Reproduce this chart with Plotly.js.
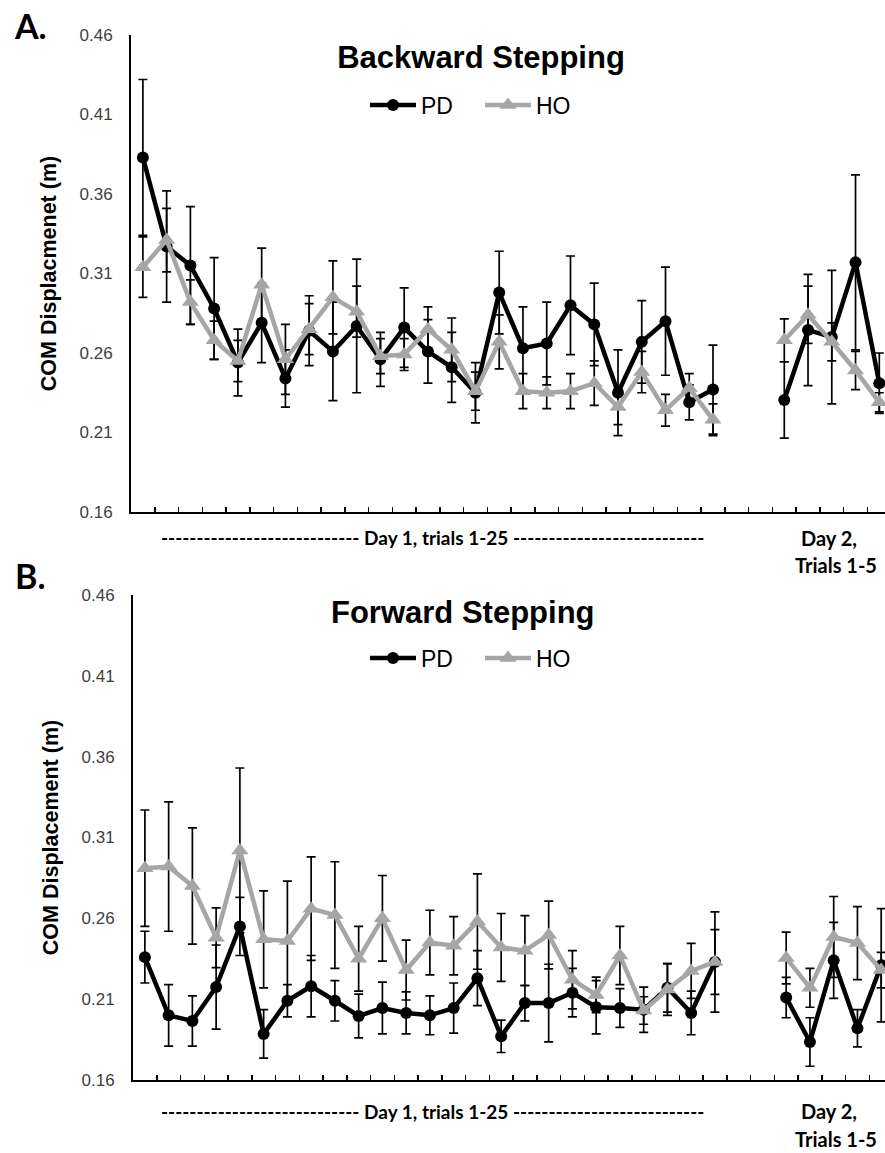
<!DOCTYPE html>
<html>
<head>
<meta charset="utf-8">
<script src="https://cdn.plot.ly/plotly-3.0.1.min.js"></script>
<style>
  html, body { margin: 0; padding: 0; background: #ffffff; overflow: hidden; }
  #chart { width: 885px; height: 1153px; }
</style>
</head>
<body>
<div id="chart"></div>
<script>
// ---------------- DATA ----------------
const day1Trials = [1,2,3,4,5,6,7,8,9,10,11,12,13,14,15,16,17,18,19,20,21,22,23,24,25];
const day2Trials = [1,2,3,4,5];

// Panel A: Backward stepping (COM displacement, m)
const backPD_day1 = [0.383,0.327,0.315,0.288,0.254,0.279,0.244,0.274,0.261,0.277,0.256,0.276,0.261,0.251,0.235,0.298,0.263,0.266,0.290,0.278,0.235,0.267,0.280,0.229,0.237];
const backPD_day1_err = [0.049,0.035,0.037,0.032,0.021,0.025,0.018,0.022,0.031,0.042,0.017,0.025,0.020,0.022,0.019,0.026,0.026,0.026,0.031,0.026,0.027,0.026,0.034,0.011,0.028];
const backHO_day1 = [0.314,0.331,0.292,0.268,0.255,0.303,0.256,0.275,0.295,0.286,0.258,0.259,0.275,0.262,0.236,0.267,0.236,0.235,0.236,0.241,0.226,0.248,0.224,0.238,0.218];
const backHO_day1_err = [0.019,0.020,0.014,0.012,0.013,0.023,0.022,0.016,0.023,0.016,0.011,0.010,0.014,0.020,0.012,0.017,0.011,0.010,0.011,0.014,0.011,0.013,0.010,0.009,0.010];
const backPD_day2 = [0.2305,0.2745,0.270,0.317,0.241];
const backPD_day2_err = [0.024,0.035,0.042,0.055,0.019];
const backHO_day2 = [0.268,0.284,0.267,0.249,0.229];
const backHO_day2_err = [0.0135,0.018,0.012,0.012,0.006];

// Panel B: Forward stepping (COM displacement, m)
const fwdPD_day1 = [0.236,0.200,0.1965,0.2175,0.255,0.1885,0.209,0.218,0.209,0.1996,0.2045,0.2015,0.200,0.2045,0.223,0.187,0.2076,0.2076,0.214,0.205,0.2045,0.2035,0.217,0.2015,0.233];
const fwdPD_day1_err = [0.016,0.019,0.0155,0.026,0.018,0.015,0.010,0.019,0.0125,0.0135,0.016,0.013,0.012,0.0155,0.017,0.010,0.011,0.024,0.015,0.0165,0.012,0.014,0.015,0.0135,0.031];
const fwdHO_day1 = [0.291,0.292,0.280,0.248,0.302,0.247,0.246,0.266,0.262,0.235,0.260,0.228,0.245,0.243,0.258,0.242,0.240,0.2497,0.222,0.2126,0.237,0.203,0.216,0.2275,0.233];
const fwdHO_day1_err = [0.036,0.040,0.036,0.0185,0.051,0.030,0.037,0.032,0.033,0.020,0.0265,0.0185,0.020,0.018,0.0295,0.021,0.0217,0.021,0.018,0.011,0.018,0.0085,0.016,0.017,0.020];
const fwdPD_day2 = [0.211,0.1835,0.234,0.192,0.231];
const fwdPD_day2_err = [0.0125,0.015,0.0235,0.0115,0.035];
const fwdHO_day2 = [0.2355,0.217,0.2485,0.2447,0.228];
const fwdHO_day2_err = [0.016,0.012,0.025,0.0226,0.011];

const yTickVals = [0.16,0.21,0.26,0.31,0.36,0.41,0.46];
const yTickText = ["0.16","0.21","0.26","0.31","0.36","0.41","0.46"];

// ---------------- LAYOUT HELPERS ----------------
const W = 885, H = 1153;
const px = x => x / W;
const py = y => 1 - y / H;
const DAY2_GAP = 2; // two empty slots between the days
const xDay1 = day1Trials.slice();
const xDay2 = day2Trials.map(t => day1Trials.length + DAY2_GAP + t);

const PD_COLOR = '#000000';
const HO_COLOR = '#A6A6A6';
const ARIAL = 'Liberation Sans, Arial, sans-serif';
const CAL = 'Lato, Carlito, Calibri, sans-serif';

const DAY1_LABEL = '<b>---------------------------- Day 1, trials 1-25 ---------------------------</b>';

function errObj(arr) {
  return { type: 'data', array: arr, visible: true, color: '#000000', thickness: 1.7, width: 4.5 };
}
function trace(x, y, err, name, color, symbol, size, xa, ya, legend, show) {
  return {
    type: 'scatter', mode: 'lines+markers', x: x, y: y, name: name,
    legendgroup: name + ya, showlegend: show, legend: legend,
    xaxis: xa, yaxis: ya,
    line: { color: color, width: 4.5 },
    marker: { color: color, symbol: symbol, size: size },
    error_y: errObj(err),
    cliponaxis: true, hoverinfo: 'skip'
  };
}

const data = [
  trace(xDay1, backPD_day1, backPD_day1_err, 'PD', PD_COLOR, 'circle', 12, 'x', 'y', 'legend', true),
  trace(xDay2, backPD_day2, backPD_day2_err, 'PD', PD_COLOR, 'circle', 12, 'x', 'y', 'legend', false),
  trace(xDay1, backHO_day1, backHO_day1_err, 'HO', HO_COLOR, 'triangle-up', 15, 'x', 'y', 'legend', true),
  trace(xDay2, backHO_day2, backHO_day2_err, 'HO', HO_COLOR, 'triangle-up', 15, 'x', 'y', 'legend', false),
  trace(xDay1, fwdPD_day1, fwdPD_day1_err, 'PD', PD_COLOR, 'circle', 12, 'x2', 'y2', 'legend2', true),
  trace(xDay2, fwdPD_day2, fwdPD_day2_err, 'PD', PD_COLOR, 'circle', 12, 'x2', 'y2', 'legend2', false),
  trace(xDay1, fwdHO_day1, fwdHO_day1_err, 'HO', HO_COLOR, 'triangle-up', 15, 'x2', 'y2', 'legend2', true),
  trace(xDay2, fwdHO_day2, fwdHO_day2_err, 'HO', HO_COLOR, 'triangle-up', 15, 'x2', 'y2', 'legend2', false)
];

function xAxis(domainLeft, rightEnd, anchor) {
  return {
    domain: [px(domainLeft), 1], range: [0.5, rightEnd], anchor: anchor,
    showgrid: false, zeroline: false, showline: true, linecolor: '#000000', linewidth: 2,
    ticks: 'inside', ticklen: 5, tickwidth: 1.5, tickcolor: '#000000',
    tickmode: 'linear', tick0: 0.5, dtick: 1, showticklabels: false, fixedrange: true
  };
}
function yAxis(top, bottom, anchor, title) {
  return {
    domain: [py(bottom), py(top)], range: [0.16, 0.46], anchor: anchor,
    showgrid: false, zeroline: false, showline: true, linecolor: '#000000', linewidth: 2,
    ticks: '', tickmode: 'array', tickvals: yTickVals, ticktext: yTickText,
    ticklabelstandoff: 13,
    tickfont: { family: ARIAL, size: 17, color: '#404040' },
    title: { text: '<b>' + title + '</b>', font: { family: ARIAL, size: 21.5, color: '#000000' }, standoff: 17 },
    fixedrange: true
  };
}
function legendObj(yCenter) {
  return {
    orientation: 'h', x: px(365), y: py(yCenter), xanchor: 'left', yanchor: 'middle',
    font: { family: ARIAL, size: 23, color: '#000000' }, bgcolor: 'rgba(0,0,0,0)',
    itemwidth: 46, entrywidth: 54, traceorder: 'normal'
  };
}
function note(text, x, y, font, size) {
  return { text: text, x: px(x), y: py(y), xref: 'paper', yref: 'paper', showarrow: false,
    font: { family: font, size: size, color: '#000000' }, xanchor: 'center', yanchor: 'middle' };
}

const layout = {
  width: W, height: H,
  margin: { l: 0, r: 0, t: 0, b: 0, pad: 0 },
  paper_bgcolor: '#ffffff', plot_bgcolor: '#ffffff',
  showlegend: true,
  title: {
    text: '<b>Backward Stepping</b>',
    font: { family: ARIAL, size: 31, color: '#000000' },
    xref: 'paper', yref: 'paper', x: px(481), y: py(57), xanchor: 'center', yanchor: 'middle'
  },
  xaxis: xAxis(131, 32.24, 'y'),
  yaxis: yAxis(35, 512, 'x', 'COM Displacmenet (m)'),
  xaxis2: xAxis(133, 32.16, 'y2'),
  yaxis2: yAxis(595, 1080, 'x2', 'COM Displacement (m)'),
  legend: legendObj(105),
  legend2: legendObj(658),
  annotations: [
    note('<b>A.</b>', 30, 25, CAL, 34),
    note('<b>B.</b>', 30, 575, CAL, 34),
    note('<b>Forward Stepping</b>', 463, 612, ARIAL, 31),
    note(DAY1_LABEL, 432, 537, CAL, 19),
    note('<b>Day 2,</b>', 829, 538, CAL, 20),
    note('<b>Trials 1-5</b>', 836, 565, CAL, 20),
    note(DAY1_LABEL, 432, 1111, CAL, 19),
    note('<b>Day 2,</b>', 829, 1111, CAL, 20),
    note('<b>Trials 1-5</b>', 836, 1139, CAL, 20)
  ]
};

Plotly.newPlot('chart', data, layout, { staticPlot: true, displayModeBar: false });
</script>
</body>
</html>
